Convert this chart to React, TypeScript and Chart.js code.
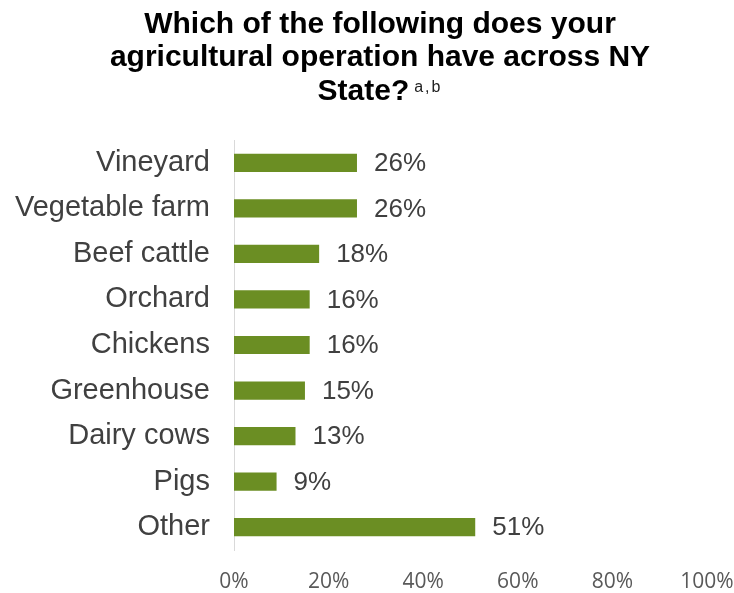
import React, { useEffect, useRef } from "react";
import { Chart, registerables } from "chart.js";

Chart.register(...registerables);

const categories = [
  "Vineyard",
  "Vegetable farm",
  "Beef cattle",
  "Orchard",
  "Chickens",
  "Greenhouse",
  "Dairy cows",
  "Pigs",
  "Other",
];
const shares = [26, 26, 18, 16, 16, 15, 13, 9, 51];
const xTickValues = [0, 20, 40, 60, 80, 100];
const titleLines = [
  "Which of the following does your",
  "agricultural operation have across NY",
  "State?",
];
const titleSup = "a,b";

const FONT = "'Liberation Sans', Arial, sans-serif";

const titlePlugin = {
  id: "customTitle",
  afterDraw(chart: any) {
    const ctx = chart.ctx;
    ctx.save();
    const cx = chart.width / 2 + 13;
    ctx.fillStyle = "#000000";
    ctx.textBaseline = "alphabetic";
    ctx.font = `bold 30px ${FONT}`;
    ctx.textAlign = "center";
    ctx.fillText(titleLines[0], cx, 33);
    ctx.fillText(titleLines[1], cx, 66);
    const w1 = ctx.measureText(titleLines[2]).width;
    ctx.font = `16px ${FONT}`;
    (ctx as any).letterSpacing = "2px";
    const w2 = ctx.measureText(titleSup).width;
    (ctx as any).letterSpacing = "0px";
    const gap = 5;
    const total = w1 + gap + w2;
    const start = cx - total / 2;
    ctx.textAlign = "left";
    ctx.font = `bold 30px ${FONT}`;
    ctx.fillText(titleLines[2], start, 100);
    ctx.font = `16px ${FONT}`;
    (ctx as any).letterSpacing = "2px";
    ctx.fillStyle = "#222222";
    ctx.fillText(titleSup, start + w1 + gap, 92);
    (ctx as any).letterSpacing = "0px";
    ctx.restore();
  },
};

const valueLabelPlugin = {
  id: "valueLabels",
  afterDatasetsDraw(chart: any) {
    const ctx = chart.ctx;
    const meta = chart.getDatasetMeta(0);
    ctx.save();
    ctx.font = `26px ${FONT}`;
    ctx.fillStyle = "#404040";
    ctx.textAlign = "left";
    ctx.textBaseline = "middle";
    meta.data.forEach((bar: any, i: number) => {
      ctx.fillText(`${shares[i]}%`, bar.x + 17, bar.y + 1);
    });
    ctx.restore();
  },
};

export default function App() {
  const canvasRef = useRef<HTMLCanvasElement>(null);

  useEffect(() => {
    const canvas = canvasRef.current;
    if (!canvas) return;
    const chart = new Chart(canvas, {
      type: "bar",
      data: {
        labels: categories,
        datasets: [
          {
            data: shares,
            backgroundColor: "#6B8E23",
            borderWidth: 0,
            barPercentage: 0.4,
            categoryPercentage: 1,
          },
        ],
      },
      options: {
        indexAxis: "y",
        responsive: false,
        animation: false,
        layout: { padding: { top: 140, left: 0, right: 0, bottom: 0 } },
        plugins: {
          legend: { display: false },
          title: { display: false },
          tooltip: { enabled: false },
        },
        scales: {
          x: {
            min: 0,
            max: 100,
            afterBuildTicks(scale: any) {
              scale.ticks = xTickValues.map((v) => ({ value: v }));
            },
            afterFit(scale: any) {
              scale.paddingLeft = 0;
              scale.paddingRight = 27;
              scale.paddingTop = 0;
              scale.paddingBottom = 0;
              scale.height = 43;
            },
            grid: { display: false, drawTicks: false },
            border: { display: false },
            ticks: {
              padding: 19,
              color: "#595959",
              font: { family: "'Open Sans', sans-serif", size: 21 },
              callback: (v: any) => `${v}%`,
              maxRotation: 0,
            },
          },
          y: {
            afterFit(scale: any) {
              scale.width = 234;
              scale.paddingTop = 0;
              scale.paddingBottom = 0;
            },
            grid: { display: false, drawTicks: false },
            border: { display: true, color: "#D9D9D9", width: 1 },
            ticks: {
              padding: 24,
              color: "#404040",
              font: { family: FONT, size: 29 },
            },
          },
        },
      },
      plugins: [titlePlugin, valueLabelPlugin],
    });
    return () => chart.destroy();
  }, []);

  return (
    <div style={{ position: "absolute", left: 0, top: 0, width: 734, height: 593, background: "#fff" }}>
      <canvas ref={canvasRef} width={734} height={593} style={{ display: "block" }} />
    </div>
  );
}
